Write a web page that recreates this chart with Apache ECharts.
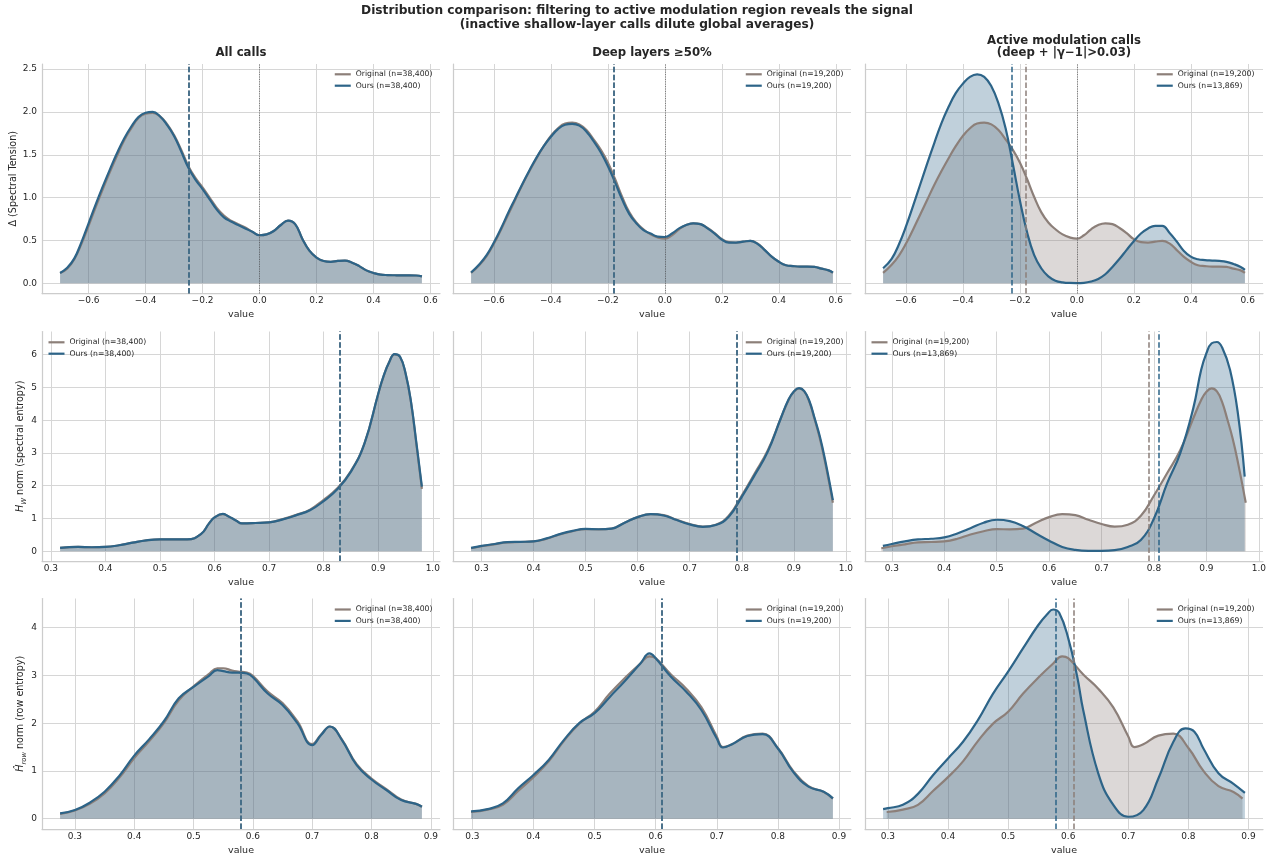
<!DOCTYPE html>
<html>
<head>
<meta charset="utf-8">
<script src="https://cdn.jsdelivr.net/npm/echarts@6/dist/echarts.min.js"></script>
<style>
  html, body { margin: 0; padding: 0; background: #ffffff; }
  #chart { width: 1270px; height: 856px; }
</style>
</head>
<body>
<div id="chart"></div>
<script>
// ---------------- Data: KDE curves (x grid + density) ----------------
// Row 1: Delta (spectral tension)
const deltaAllX = [-0.70,-0.675,-0.65,-0.625,-0.60,-0.575,-0.55,-0.525,-0.50,-0.475,-0.45,-0.425,-0.40,-0.375,-0.35,-0.325,-0.30,-0.275,-0.25,-0.225,-0.20,-0.175,-0.15,-0.125,-0.10,-0.075,-0.05,-0.025,0.00,0.025,0.05,0.075,0.10,0.125,0.15,0.175,0.20,0.225,0.25,0.275,0.30,0.325,0.35,0.375,0.40,0.425,0.45,0.475,0.50,0.525,0.55,0.57];
const deltaAllOrig = [0.12,0.17,0.28,0.46,0.67,0.89,1.10,1.30,1.49,1.67,1.81,1.93,1.98,1.99,1.95,1.86,1.73,1.56,1.37,1.23,1.12,1.00,0.88,0.79,0.73,0.69,0.65,0.60,0.56,0.57,0.61,0.68,0.73,0.69,0.52,0.38,0.30,0.26,0.25,0.26,0.265,0.24,0.20,0.15,0.12,0.10,0.095,0.093,0.092,0.092,0.09,0.08];
const deltaAllOurs = [0.12,0.18,0.29,0.48,0.70,0.92,1.13,1.33,1.52,1.69,1.83,1.94,1.99,2.00,1.95,1.85,1.72,1.54,1.35,1.21,1.10,0.98,0.86,0.77,0.72,0.68,0.64,0.60,0.56,0.57,0.61,0.68,0.73,0.69,0.52,0.38,0.30,0.26,0.25,0.26,0.265,0.24,0.20,0.15,0.12,0.10,0.095,0.093,0.092,0.092,0.09,0.08];

const deltaDeepX = [-0.68,-0.65,-0.625,-0.60,-0.575,-0.55,-0.525,-0.50,-0.475,-0.45,-0.425,-0.40,-0.375,-0.35,-0.325,-0.30,-0.275,-0.25,-0.225,-0.20,-0.175,-0.15,-0.125,-0.10,-0.075,-0.05,-0.025,0.00,0.025,0.05,0.075,0.10,0.125,0.15,0.175,0.20,0.225,0.25,0.275,0.30,0.325,0.35,0.375,0.40,0.425,0.45,0.475,0.50,0.525,0.55,0.575,0.59];
const deltaDeepOrig = [0.12,0.215,0.32,0.46,0.625,0.80,0.975,1.15,1.31,1.46,1.60,1.72,1.81,1.865,1.875,1.855,1.79,1.68,1.56,1.41,1.22,1.01,0.83,0.71,0.63,0.57,0.535,0.52,0.56,0.63,0.68,0.70,0.69,0.645,0.585,0.515,0.48,0.475,0.485,0.495,0.465,0.39,0.31,0.25,0.21,0.20,0.195,0.195,0.19,0.17,0.15,0.12];
const deltaDeepOurs = [0.125,0.225,0.33,0.475,0.64,0.82,0.99,1.16,1.32,1.47,1.60,1.71,1.80,1.85,1.86,1.84,1.77,1.66,1.53,1.37,1.18,0.98,0.81,0.70,0.62,0.58,0.545,0.54,0.58,0.64,0.68,0.70,0.69,0.64,0.58,0.51,0.475,0.475,0.485,0.495,0.46,0.39,0.31,0.25,0.21,0.20,0.195,0.195,0.19,0.17,0.15,0.125];
const deltaActiveOurs = [0.175,0.285,0.45,0.66,0.90,1.15,1.40,1.64,1.87,2.06,2.22,2.33,2.41,2.44,2.41,2.30,2.10,1.81,1.40,0.97,0.60,0.33,0.175,0.08,0.03,0.01,0.003,0.002,0.005,0.02,0.05,0.105,0.19,0.285,0.39,0.49,0.58,0.64,0.67,0.67,0.59,0.49,0.38,0.31,0.28,0.27,0.265,0.26,0.25,0.225,0.19,0.155];

// Row 2: H_W norm (spectral entropy)
const hwAllX = [0.317,0.35,0.375,0.40,0.425,0.45,0.475,0.50,0.525,0.55,0.575,0.59,0.60,0.615,0.625,0.64,0.65,0.675,0.70,0.725,0.75,0.775,0.80,0.825,0.85,0.875,0.90,0.91,0.92,0.93,0.94,0.95,0.96,0.97,0.98];
const hwAllOrig = [0.10,0.13,0.12,0.13,0.18,0.26,0.33,0.36,0.36,0.36,0.52,0.85,1.03,1.13,1.07,0.93,0.85,0.86,0.88,0.98,1.11,1.27,1.57,1.92,2.45,3.30,4.80,5.35,5.77,6.01,5.93,5.43,4.55,3.25,1.90];
const hwAllOurs = [0.10,0.13,0.12,0.13,0.18,0.26,0.33,0.36,0.36,0.36,0.52,0.85,1.03,1.14,1.07,0.93,0.85,0.86,0.88,0.97,1.10,1.25,1.53,1.89,2.43,3.30,4.81,5.36,5.77,6.02,5.94,5.44,4.57,3.30,1.97];

const hwDeepX = [0.28,0.30,0.325,0.35,0.375,0.40,0.425,0.45,0.475,0.50,0.525,0.55,0.575,0.60,0.625,0.65,0.675,0.70,0.725,0.75,0.775,0.80,0.825,0.85,0.875,0.89,0.90,0.91,0.92,0.93,0.94,0.95,0.96,0.975];
const hwDeepOrig = [0.09,0.15,0.21,0.27,0.28,0.30,0.38,0.51,0.61,0.675,0.665,0.69,0.87,1.04,1.13,1.10,0.96,0.83,0.75,0.81,1.08,1.70,2.38,3.08,4.06,4.62,4.87,4.97,4.88,4.55,4.02,3.44,2.72,1.48];
const hwDeepOurs = [0.10,0.16,0.22,0.275,0.285,0.30,0.39,0.52,0.62,0.68,0.67,0.69,0.87,1.04,1.13,1.09,0.95,0.82,0.745,0.80,1.05,1.66,2.33,3.04,4.06,4.64,4.88,4.98,4.89,4.58,4.06,3.50,2.79,1.56];

const hwActiveX = [0.283,0.30,0.325,0.35,0.375,0.40,0.425,0.45,0.475,0.50,0.525,0.55,0.575,0.60,0.625,0.65,0.675,0.70,0.725,0.75,0.775,0.80,0.825,0.85,0.875,0.89,0.90,0.91,0.92,0.93,0.945,0.96,0.973];
const hwActiveOurs = [0.16,0.22,0.30,0.36,0.38,0.42,0.54,0.70,0.87,0.96,0.92,0.77,0.54,0.32,0.13,0.04,0.01,0.01,0.03,0.13,0.34,1.00,2.07,2.99,4.37,5.54,6.05,6.35,6.39,6.22,5.54,4.21,2.28];

// Row 3: H_row norm (row entropy)
const hrowAllX = [0.275,0.30,0.325,0.35,0.375,0.40,0.425,0.45,0.475,0.50,0.525,0.54,0.55,0.565,0.575,0.59,0.60,0.625,0.65,0.675,0.70,0.715,0.73,0.75,0.775,0.80,0.825,0.85,0.875,0.885];
const hrowAllOrig = [0.10,0.17,0.31,0.53,0.86,1.27,1.62,2.00,2.48,2.77,3.02,3.15,3.15,3.10,3.08,3.06,2.99,2.66,2.42,2.04,1.56,1.76,1.93,1.66,1.14,0.84,0.62,0.40,0.31,0.25];
const hrowAllOurs = [0.11,0.18,0.335,0.565,0.90,1.32,1.66,2.04,2.52,2.76,2.98,3.11,3.09,3.06,3.06,3.04,2.96,2.62,2.38,2.00,1.54,1.75,1.93,1.65,1.12,0.82,0.60,0.39,0.31,0.25];

const hrowDeepX = [0.298,0.325,0.35,0.375,0.40,0.425,0.45,0.475,0.50,0.525,0.55,0.575,0.59,0.60,0.625,0.65,0.675,0.70,0.71,0.725,0.75,0.775,0.80,0.825,0.85,0.875,0.89];
const hrowDeepOrig = [0.14,0.19,0.29,0.58,0.87,1.20,1.63,1.99,2.24,2.62,2.95,3.25,3.40,3.36,3.02,2.72,2.33,1.72,1.50,1.56,1.74,1.78,1.48,1.00,0.68,0.56,0.42];
const hrowDeepOurs = [0.155,0.20,0.32,0.635,0.915,1.23,1.65,2.00,2.21,2.55,2.89,3.25,3.46,3.36,2.97,2.66,2.27,1.68,1.49,1.56,1.73,1.77,1.47,0.98,0.67,0.565,0.425];

const hrowActiveX = [0.292,0.30,0.325,0.35,0.375,0.40,0.425,0.45,0.475,0.50,0.525,0.55,0.565,0.575,0.585,0.60,0.615,0.625,0.65,0.675,0.70,0.725,0.75,0.775,0.795,0.81,0.825,0.85,0.875,0.894];
const hrowActiveOurs = [0.20,0.22,0.29,0.52,0.91,1.26,1.61,2.07,2.62,3.08,3.57,4.05,4.28,4.38,4.31,3.78,2.97,2.27,0.95,0.29,0.04,0.18,0.84,1.61,1.89,1.82,1.47,0.95,0.73,0.54];

// Means per column: [all calls, deep layers, active modulation]
const deltaMeanOrig = [-0.252, -0.181, -0.181];
const deltaMeanOurs = [-0.250, -0.181, -0.235];
const hwMeanOrig = [0.828, 0.789, 0.789];
const hwMeanOurs = [0.828, 0.790, 0.810];
const hrowMeanOrig = [0.578, 0.611, 0.611];
const hrowMeanOurs = [0.578, 0.609, 0.579];

// Sample counts per column
const nOrig = [38400, 19200, 19200];
const nOurs = [38400, 19200, 13869];

// Tick values
const deltaXTicks = [-0.6, -0.4, -0.2, 0.0, 0.2, 0.4, 0.6];
const hwXTicks = [0.3, 0.4, 0.5, 0.6, 0.7, 0.8, 0.9, 1.0];
const hrowXTicks = [0.3, 0.4, 0.5, 0.6, 0.7, 0.8, 0.9];
const deltaYTicks = [0, 0.5, 1.0, 1.5, 2.0, 2.5];
const hwYTicks = [0, 1, 2, 3, 4, 5, 6];
const hrowYTicks = [0, 1, 2, 3, 4];

const colTitles = ['All calls', 'Deep layers \u226550%', 'Active modulation calls\n(deep + |\u03b3\u22121|>0.03)'];

// ---------------- Layout & style ----------------
const FONT = "'DejaVu Sans', sans-serif";
const TEXT = '#262626';
const ORIG_COLOR = '#8c7f79';
const OURS_COLOR = '#2d6488';
const GRID_COLOR = '#d6d6d6';
const SPINE_COLOR = '#cccccc';
const SMOOTH = 0.45;

const colLeft = [42, 453, 865];
const colWidth = 398;
const rowTop = [64, 331.5, 598.5];
const rowHeight = [229.5, 229.5, 230.5];

const fmt = dec => v => (v < 0 ? '\u2212' : '') + Math.abs(v).toFixed(dec);
const zip = (xs, ys) => xs.map((x, i) => [x, ys[i]]);
const origName = n => 'Original (n=' + n.toLocaleString('en-US') + ')';
const oursName = n => 'Ours (n=' + n.toLocaleString('en-US') + ')';

const rows = [
  {
    origX: [deltaAllX, deltaDeepX, deltaDeepX],
    orig: [deltaAllOrig, deltaDeepOrig, deltaDeepOrig],
    oursX: [deltaAllX, deltaDeepX, deltaDeepX],
    ours: [deltaAllOurs, deltaDeepOurs, deltaActiveOurs],
    meanOrig: deltaMeanOrig, meanOurs: deltaMeanOurs,
    xTicks: deltaXTicks, yTicks: deltaYTicks, xDec: 1, yDec: 1,
    xRange: [[-0.7635, 0.6335], [-0.7435, 0.6535], [-0.7435, 0.6535]],
    yRange: [-0.12, 2.56],
    yName: '\u0394 (Spectral Tension)', yNameGap: 22,
    zeroLine: true,
    legendSide: ['right', 'right', 'right'], legendTop: 70.3
  },
  {
    origX: [hwAllX, hwDeepX, hwDeepX],
    orig: [hwAllOrig, hwDeepOrig, hwDeepOrig],
    oursX: [hwAllX, hwDeepX, hwActiveX],
    ours: [hwAllOurs, hwDeepOurs, hwActiveOurs],
    meanOrig: hwMeanOrig, meanOurs: hwMeanOurs,
    xTicks: hwXTicks, yTicks: hwYTicks, xDec: 1, yDec: 0,
    xRange: [[0.2838, 1.0132], [0.2453, 1.0098], [0.2489, 1.0079]],
    yRange: [-0.3, 6.71],
    yName: '{i|H}{s|W} norm (spectral entropy)', yNameGap: 14,
    zeroLine: false,
    legendSide: ['left', 'right', 'left'], legendTop: 338.3
  },
  {
    origX: [hrowAllX, hrowDeepX, hrowDeepX],
    orig: [hrowAllOrig, hrowDeepOrig, hrowDeepOrig],
    oursX: [hrowAllX, hrowDeepX, hrowActiveX],
    ours: [hrowAllOurs, hrowDeepOurs, hrowActiveOurs],
    meanOrig: hrowMeanOrig, meanOurs: hrowMeanOurs,
    xTicks: hrowXTicks, yTicks: hrowYTicks, xDec: 1, yDec: 0,
    xRange: [[0.2445, 0.9155], [0.2684, 0.9196], [0.2619, 0.9241]],
    yRange: [-0.216, 4.61],
    yName: '{i|\u0124}{s|row} norm (row entropy)', yNameGap: 14,
    zeroLine: false,
    legendSide: ['right', 'right', 'right'], legendTop: 605.5
  }
];

const legendRight = [837.5, 426.5, 15.5];
const legendLeft = [48.5, 459.5, 871.5];

const grids = [], xAxes = [], yAxes = [], series = [], legends = [];

rows.forEach((row, r) => {
  for (let c = 0; c < 3; c++) {
    const k = r * 3 + c;
    grids.push({
      left: colLeft[c], top: rowTop[r], width: colWidth, height: rowHeight[r],
      containLabel: false, outerBoundsMode: 'none'
    });
    xAxes.push({
      type: 'value', gridIndex: k,
      min: row.xRange[c][0], max: row.xRange[c][1],
      axisLine: { show: true, onZero: false, lineStyle: { color: SPINE_COLOR, width: 1.25 } },
      axisTick: { show: false, customValues: row.xTicks },
      axisLabel: {
        customValues: row.xTicks, formatter: fmt(row.xDec),
        color: TEXT, fontSize: 9, fontFamily: FONT, margin: 3
      },
      splitLine: { show: true, lineStyle: { color: GRID_COLOR, width: 1 } },
      name: 'value', nameLocation: 'middle', nameGap: 16.5,
      nameTextStyle: { color: TEXT, fontSize: 9.5, fontFamily: FONT }
    });
    const yAxis = {
      type: 'value', gridIndex: k,
      min: row.yRange[0], max: row.yRange[1],
      axisLine: { show: true, onZero: false, lineStyle: { color: SPINE_COLOR, width: 1.25 } },
      axisTick: { show: false, customValues: row.yTicks },
      axisLabel: {
        show: c === 0, customValues: row.yTicks, formatter: fmt(row.yDec),
        color: TEXT, fontSize: 9, fontFamily: FONT, margin: 5
      },
      splitLine: { show: true, lineStyle: { color: GRID_COLOR, width: 1 } }
    };
    if (c === 0) {
      Object.assign(yAxis, {
        name: row.yName, nameLocation: 'middle', nameGap: row.yNameGap, nameRotate: 90,
        nameTextStyle: {
          color: TEXT, fontSize: 9.6, fontFamily: FONT,
          rich: {
            i: { fontStyle: 'italic', fontSize: 9.6, fontFamily: FONT, color: TEXT },
            s: { fontStyle: 'italic', fontSize: 6.8, fontFamily: FONT, color: TEXT, padding: [6, 0, 0, 0] }
          }
        }
      });
    }
    yAxes.push(yAxis);

    const oName = origName(nOrig[c]);
    const uName = oursName(nOurs[c]);
    const dash = [5.5, 2.4];

    const origMarks = [];
    if (row.zeroLine) {
      origMarks.push({ xAxis: 0, lineStyle: { color: '#4d4d4d', width: 0.8, type: [1, 1.4], opacity: 0.9 } });
    }
    origMarks.push({ xAxis: row.meanOrig[c], lineStyle: { color: ORIG_COLOR, width: 1.5, type: dash } });

    series.push({
      type: 'line', name: oName, xAxisIndex: k, yAxisIndex: k,
      data: zip(row.origX[c], row.orig[c]),
      showSymbol: false, smooth: SMOOTH, color: ORIG_COLOR,
      lineStyle: { color: ORIG_COLOR, width: 2.2 },
      areaStyle: { color: ORIG_COLOR, opacity: 0.3 },
      silent: true, animation: false, emphasis: { disabled: true },
      markLine: {
        silent: true, symbol: ['none', 'none'], label: { show: false }, animation: false,
        emphasis: { disabled: true }, data: origMarks
      }
    });
    series.push({
      type: 'line', name: uName, xAxisIndex: k, yAxisIndex: k,
      data: zip(row.oursX[c], row.ours[c]),
      showSymbol: false, smooth: SMOOTH, color: OURS_COLOR,
      lineStyle: { color: OURS_COLOR, width: 2.2 },
      areaStyle: { color: OURS_COLOR, opacity: 0.3 },
      silent: true, animation: false, emphasis: { disabled: true },
      markLine: {
        silent: true, symbol: ['none', 'none'], label: { show: false }, animation: false,
        emphasis: { disabled: true },
        data: [{ xAxis: row.meanOurs[c], lineStyle: { color: OURS_COLOR, width: 1.5, type: dash } }]
      }
    });

    const leg = {
      data: [oName, uName], orient: 'vertical', top: row.legendTop,
      padding: 0, itemGap: 3.4, itemWidth: 16, itemHeight: 2.2, icon: 'rect',
      selectedMode: false, align: 'left',
      textStyle: { color: TEXT, fontSize: 7.7, fontFamily: FONT, lineHeight: 8 }
    };
    if (row.legendSide[c] === 'right') leg.right = legendRight[c]; else leg.left = legendLeft[c];
    legends.push(leg);
  }
});

// Figure title and column titles
const graphics = [
  { type: 'text', x: 637, y: 10.5, style: { text: 'Distribution comparison: filtering to active modulation region reveals the signal', align: 'center', verticalAlign: 'middle', font: 'bold 12.2px ' + FONT, fill: TEXT } },
  { type: 'text', x: 637, y: 24.5, style: { text: '(inactive shallow-layer calls dilute global averages)', align: 'center', verticalAlign: 'middle', font: 'bold 12.2px ' + FONT, fill: TEXT } }
];
colTitles.forEach((t, c) => {
  const lines = t.split('\n');
  const cx = colLeft[c] + colWidth / 2;
  lines.forEach((ln, j) => {
    graphics.push({
      type: 'text', x: cx, y: 53 - (lines.length - 1 - j) * 12.5,
      style: { text: ln, align: 'center', verticalAlign: 'middle', font: 'bold 11.7px ' + FONT, fill: TEXT }
    });
  });
});

const chart = echarts.init(document.getElementById('chart'), null, { renderer: 'canvas' });
chart.setOption({
  backgroundColor: '#ffffff',
  animation: false,
  textStyle: { fontFamily: FONT },
  grid: grids,
  xAxis: xAxes,
  yAxis: yAxes,
  legend: legends,
  series: series,
  graphic: graphics
});
</script>
</body>
</html>
